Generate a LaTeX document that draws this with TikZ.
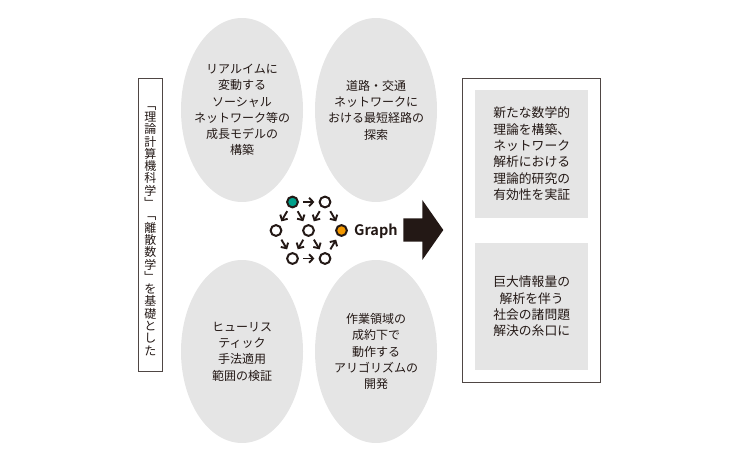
\documentclass[tikz,border=0pt]{standalone}
\usepackage{fontspec}
\setmainfont{Noto Sans CJK JP}[BoldFont={Noto Sans CJK JP Bold}]
\usepackage{tikz}
\usetikzlibrary{arrows.meta,shapes.geometric}

\definecolor{ink}{HTML}{231815}
\definecolor{paleGray}{HTML}{E5E5E5}
\definecolor{startGreen}{HTML}{00A08A}
\definecolor{goalOrange}{HTML}{F39800}

\begin{document}
\begin{tikzpicture}[x=1bp,y=-1bp,
            blob/.style={ellipse, fill=paleGray, minimum width=122bp, minimum height=184bp, inner sep=0pt},
            ptext/.style={align=center, text=ink, inner sep=0pt, font=\fontsize{12bp}{16.3bp}\selectfont},
            panel/.style={fill=paleGray, minimum width=113bp, minimum height=128bp, align=center, text=ink,
                font=\fontsize{12.8bp}{16.3bp}\selectfont},
            frame/.style={draw=ink!80, line width=0.8bp, inner sep=0pt},
            dot/.style={circle, draw=ink, line width=2bp, fill=white, minimum size=10.8bp, inner sep=0pt},
            hop/.style={-{Straight Barb[length=4bp,width=8.5bp]}, draw=ink, line width=1.9bp,
                shorten <=4.2bp, shorten >=4.2bp}]
            \useasboundingbox (0,0) rectangle (740,460);

            \node[frame, minimum width=24bp, minimum height=293.4bp] (basisbox) at (150.3,225) {};
            \node[align=center, text=ink, inner sep=0pt, font=\fontsize{12bp}{12.3bp}\selectfont] (basis) at (150.3,231)
                {﹁\\理\\論\\計\\算\\機\\科\\学\\﹂\\﹁\\離\\散\\数\\学\\﹂\\を\\基\\礎\\と\\し\\た};

            \node[blob] (growth) at (242,110) {};
            \node[blob] (route) at (376,110) {};
            \node[blob, minimum height=183bp] (heuristic) at (242,351.5) {};
            \node[blob, minimum height=183bp] (algorithm) at (376,351.5) {};

            \node[ptext] (growthtext) at (growth) {リアルイムに\\変動する\\ソーシャル\\ネットワーク等の\\成長モデルの\\構築};
            \node[ptext] (routetext) at (route) {道路・交通\\ネットワークに\\おける最短経路の\\探索};
            \node[ptext] (heuristictext) at (heuristic) {ヒューリス\\ティック\\手法適用\\範囲の検証};
            \node[ptext] (algorithmtext) at (algorithm) {作業領域の\\成約下で\\動作する\\アリゴリズムの\\開発};

            \node[dot, fill=startGreen] (v1) at (292.5,202) {};
            \foreach \name/\px/\py in {v2/325/202, v3/276/230.5, v4/308.5/230.5, v6/292.5/258.5, v7/325/258.5}{
                \node[dot] (\name) at (\px,\py) {};
            }
            \node[dot, fill=goalOrange] (v5) at (341.5,230.5) {};

            \foreach \s/\t in {v1/v2, v1/v3, v1/v4, v2/v4, v2/v5, v3/v6, v4/v6, v4/v7, v7/v5, v6/v7}{
                \draw[hop] (\s) -- (\t);
            }

            \node[anchor=base west, inner sep=0pt, text=ink, font=\fontsize{14.5bp}{14.5bp}\selectfont\bfseries]
                (graphlabel) at (354,235.7) {Graph};

            \fill[ink] (403.3,218.3) -- (422.3,218.3) -- (422.3,200) -- (443.3,230)
                -- (422.3,260) -- (422.3,241.7) -- (403.3,241.7) -- cycle;

            \node[frame, minimum width=137.5bp, minimum height=304bp] (resultbox) at (531.2,230) {};
            \node[panel] (theory) at (531.7,153.8) {新たな数学的\\理論を構築、\\ネットワーク\\解析における\\理論的研究の\\有効性を実証};
            \node[panel, minimum height=127.3bp] (society) at (531.7,306.4) {巨大情報量の\\解析を伴う\\社会の諸問題\\解決の糸口に};
        \end{tikzpicture}
\end{document}
